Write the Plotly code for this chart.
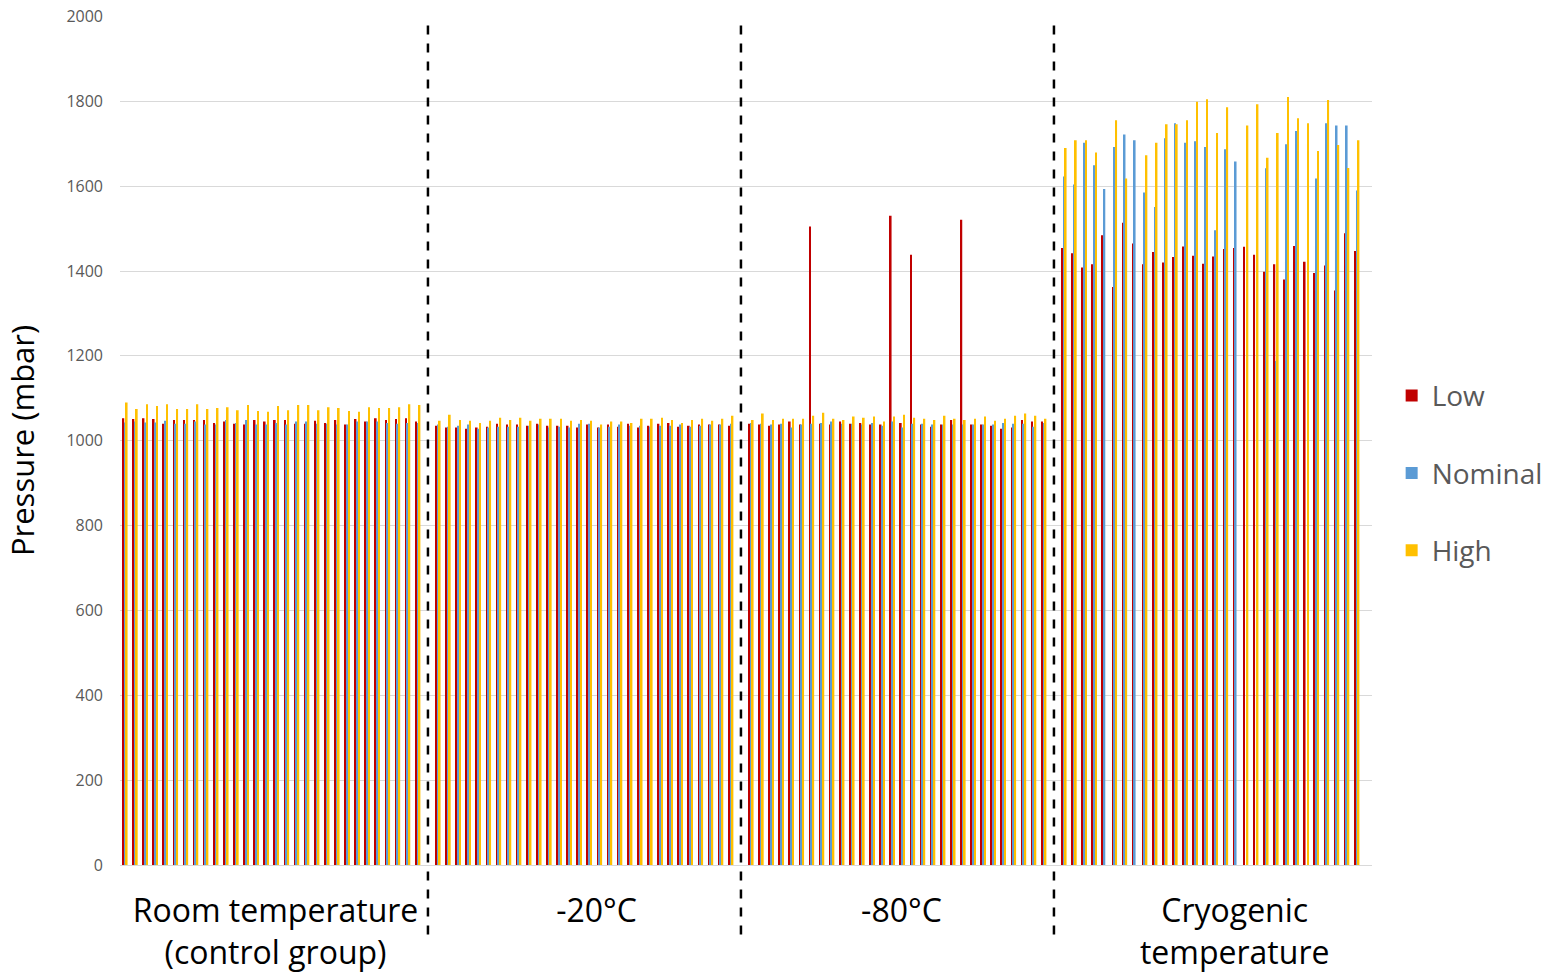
import plotly.graph_objects as go

# ---------------- data ----------------
segments = ["Room temperature<br>(control group)", "-20°C", "-80°C", "Cryogenic<br>temperature"]
series_names = ["Low", "Nominal", "High"]
series_colors = ["#C00000", "#5B9BD5", "#FFC000"]

low_rt = [1053, 1051, 1053, 1051, 1040, 1049, 1049, 1049, 1049, 1042, 1045, 1040, 1038, 1049, 1045,
          1049, 1049, 1040, 1040, 1047, 1042, 1049, 1038, 1051, 1045, 1053, 1049, 1051, 1053, 1045]
nom_rt = [1043, 1045, 1043, 1043, 1047, 1040, 1040, 1045, 1038, 1038, 1049, 1042, 1049, 1038, 1038,
          1042, 1038, 1045, 1045, 1040, 1040, 1038, 1038, 1045, 1045, 1045, 1042, 1040, 1042, 1042]
high_rt = [1090, 1075, 1086, 1082, 1086, 1075, 1075, 1086, 1075, 1077, 1079, 1072, 1084, 1070, 1068,
           1082, 1072, 1084, 1084, 1072, 1079, 1077, 1070, 1068, 1079, 1077, 1077, 1079, 1086, 1084]

low_m20 = [1035, 1031, 1031, 1028, 1031, 1033, 1040, 1038, 1038, 1035, 1040, 1035, 1035, 1035, 1031,
           1038, 1031, 1038, 1033, 1040, 1031, 1035, 1040, 1042, 1033, 1035, 1038, 1038, 1038, 1035]
nom_m20 = [1038, 1033, 1035, 1038, 1028, 1031, 1033, 1033, 1033, 1035, 1038, 1031, 1033, 1031, 1040,
           1040, 1031, 1033, 1038, 1035, 1035, 1033, 1035, 1035, 1038, 1033, 1035, 1038, 1038, 1040]
high_m20 = [1047, 1061, 1049, 1047, 1042, 1047, 1054, 1049, 1054, 1047, 1052, 1052, 1052, 1047, 1049,
            1047, 1038, 1045, 1045, 1042, 1052, 1052, 1054, 1049, 1042, 1049, 1052, 1047, 1052, 1059]

low_m80 = [1040, 1038, 1035, 1038, 1045, 1038, 1505, 1040, 1038, 1045, 1040, 1042, 1038, 1038, 1530,
           1042, 1438, 1038, 1033, 1038, 1049, 1521, 1038, 1038, 1035, 1028, 1031, 1049, 1045, 1045]
nom_m80 = [1042, 1040, 1038, 1040, 1031, 1038, 1040, 1042, 1045, 1040, 1040, 1038, 1042, 1035, 1045,
           1031, 1040, 1040, 1038, 1038, 1038, 1038, 1038, 1038, 1038, 1042, 1040, 1040, 1033, 1042]
high_m80 = [1049, 1064, 1049, 1052, 1052, 1052, 1059, 1066, 1052, 1049, 1057, 1054, 1057, 1045, 1057,
            1061, 1054, 1052, 1049, 1059, 1052, 1049, 1052, 1057, 1047, 1052, 1059, 1064, 1059, 1052]

low_cryo = [1454, 1442, 1408, 1416, 1484, 1362, 1514, 1465, 1416, 1445, 1420, 1433, 1458, 1436, 1417,
            1434, 1452, 1454, 1457, 1438, 1398, 1416, 1380, 1459, 1422, 1395, 1413, 1354, 1489, 1447]
nom_cryo = [1623, 1604, 1702, 1649, 1593, 1692, 1722, 1708, 1585, 1551, 1713, 1748, 1702, 1706, 1692,
            1496, 1687, 1658, None, None, 1642, 1188, 1699, 1730, None, 1618, 1748, 1743, 1743, 1590]
high_cryo = [1690, 1708, 1708, 1679, None, 1755, 1618, None, 1673, 1702, 1746, 1746, 1755, 1799, 1805,
             1725, 1786, None, 1743, 1793, 1667, 1725, 1810, 1760, 1748, 1683, 1803, 1697, 1643, 1708]

y_ticks = [0, 200, 400, 600, 800, 1000, 1200, 1400, 1600, 1800, 2000]

series_data = [
    [low_rt, low_m20, low_m80, low_cryo],
    [nom_rt, nom_m20, nom_m80, nom_cryo],
    [high_rt, high_m20, high_m80, high_cryo],
]

# ---------------- layout helpers ----------------
n_per_seg = len(low_rt)
slot = n_per_seg + 1          # one empty slot after each segment
label_pos = [14.9, 46.7, 76.9, 109.9]

FONT = "Open Sans"

fig = go.Figure()
for name, color, segs in zip(series_names, series_colors, series_data):
    xs, ys = [], []
    for k, vals in enumerate(segs):
        for g, v in enumerate(vals):
            xs.append(k * slot + g)
            ys.append(v)
    fig.add_trace(go.Bar(
        x=xs, y=ys, name=name, legendgroup=name,
        marker=dict(color=color, line=dict(width=0)),
    ))

# dashed dividers at the empty slots between segments
for k in range(1, len(segments)):
    xd = k * slot - 1
    fig.add_shape(type="line", xref="x", yref="paper", x0=xd, x1=xd, y0=-0.082, y1=0.989,
                  line=dict(color="black", width=2.5, dash="9px,9px"))

total_slots = slot * len(segments)

fig.update_layout(
    width=1548, height=972,
    margin=dict(l=120, r=176, t=16, b=107, autoexpand=False),
    paper_bgcolor="white", plot_bgcolor="white",
    barmode="group", bargap=0.5, bargroupgap=0,
    font=dict(family=FONT, color="#595959"),
    showlegend=True,
    legend=dict(xref="container", yref="container", x=0.899, y=0.513,
                xanchor="left", yanchor="middle",
                font=dict(size=28, color="#595959", family=FONT),
                tracegroupgap=38, bgcolor="rgba(0,0,0,0)"),
    xaxis=dict(range=[-0.5, total_slots - 0.5], showgrid=False, zeroline=False,
               showline=False, tickmode="array", tickvals=label_pos, ticktext=segments,
               ticks="", ticklabelstandoff=24, automargin=False,
               tickfont=dict(size=32, color="black", family=FONT)),
    yaxis=dict(range=[0, 2001], tickmode="array", tickvals=y_ticks,
               showgrid=True, gridcolor="#D9D9D9", gridwidth=1,
               zeroline=True, zerolinecolor="#D9D9D9", zerolinewidth=1,
               showline=False, ticks="", ticklabelstandoff=16, automargin=False,
               tickfont=dict(size=16, color="#595959", family=FONT),
               title=dict(text="Pressure (mbar)", standoff=22,
                          font=dict(size=31, color="black", family=FONT))),
)

fig.write_html("out.html")
